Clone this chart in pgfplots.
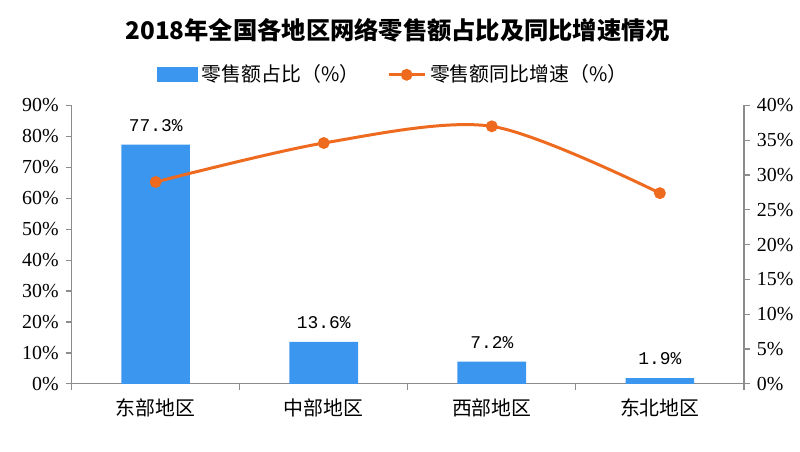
\documentclass[border=0pt]{standalone}
\usepackage{pgfplots}
\pgfplotsset{compat=1.18}
\usepackage{fontspec}
\setmainfont{Noto Sans CJK SC}
\newfontfamily\numfont{Liberation Serif}
\newfontfamily\monofont{Liberation Mono}
\definecolor{barblue}{HTML}{3A96EE}
\definecolor{lineorange}{HTML}{EE6A1E}
\definecolor{axgray}{HTML}{8C8C8C}
\begin{document}
\begin{tikzpicture}
\path (0,0) rectangle (400pt,227pt);
\node[font=\fontsize{12.2}{14}\selectfont\bfseries] at (200pt,212pt) {2018年全国各地区网络零售额占比及同比增速情况};
\begin{axis}[
  at={(36pt,34pt)}, anchor=south west,
  width=338pt, height=140pt, scale only axis,
  xmin=-0.5, xmax=3.5, ymin=0, ymax=90,
  axis y line*=left, axis x line*=bottom,
  axis line style={axgray, line width=0.6pt},
  xtick={-0.5,0.5,1.5,2.5,3.5},
  x tick label as interval,
  xticklabels={东部地区,中部地区,西部地区,东北地区},
  x tick label style={font=\fontsize{10}{12}\selectfont, yshift=-1pt},
  ytick={0,10,...,90},
  yticklabel={\pgfmathprintnumber{\tick}\%},
  y tick label style={font=\numfont\fontsize{10}{12}\selectfont},
  /pgf/number format/assume math mode=true,
  tick style={axgray, line width=0.6pt},
  tick align=outside, major tick length=3pt,
  clip=false,
]
\addplot[ybar, bar width=34.5pt, fill=barblue, draw=none,
  nodes near coords={\pgfmathprintnumber[fixed,precision=1,fixed zerofill]{\pgfplotspointmeta}\%},
  nodes near coords style={font=\monofont\fontsize{9}{11}\selectfont, text=black, yshift=3pt}]
  coordinates {(0,77.3) (1,13.6) (2,7.2) (3,1.9)};
\end{axis}
\begin{axis}[
  at={(36pt,34pt)}, anchor=south west,
  width=338pt, height=140pt, scale only axis,
  xmin=-0.5, xmax=3.5, ymin=0, ymax=40,
  axis y line*=right, axis x line=none,
  axis line style={axgray, line width=0.6pt},
  ytick={0,5,...,40},
  yticklabel={\pgfmathprintnumber{\tick}\%},
  y tick label style={font=\numfont\fontsize{10}{12}\selectfont},
  /pgf/number format/assume math mode=true,
  tick style={axgray, line width=0.6pt},
  tick align=outside, major tick length=3pt,
  clip=false,
  legend style={at={(0.48,1.11)}, anchor=center, draw=none, fill=none,
    legend columns=2, font=\fontsize{10}{12}\selectfont,
    /tikz/every even column/.append style={column sep=12pt},
    legend cell align=left},
]
\addlegendimage{legend image code/.code={\fill[barblue] (0pt,-3.5pt) rectangle (20pt,3.5pt);}}
\addlegendentry{零售额占比（\%）}
\addplot[lineorange, line width=1.5pt, smooth, mark=*, mark size=2.2pt,
  mark options={fill=lineorange, draw=lineorange},
  legend image code/.code={\draw[lineorange,line width=1.5pt] (0pt,0pt) -- (18pt,0pt); \fill[lineorange] (9pt,0pt) circle (2.2pt);}]
  coordinates {(0,29.0) (1,34.6) (2,37.0) (3,27.4)};
\addlegendentry{零售额同比增速（\%）}
\end{axis}
\end{tikzpicture}
\end{document}
